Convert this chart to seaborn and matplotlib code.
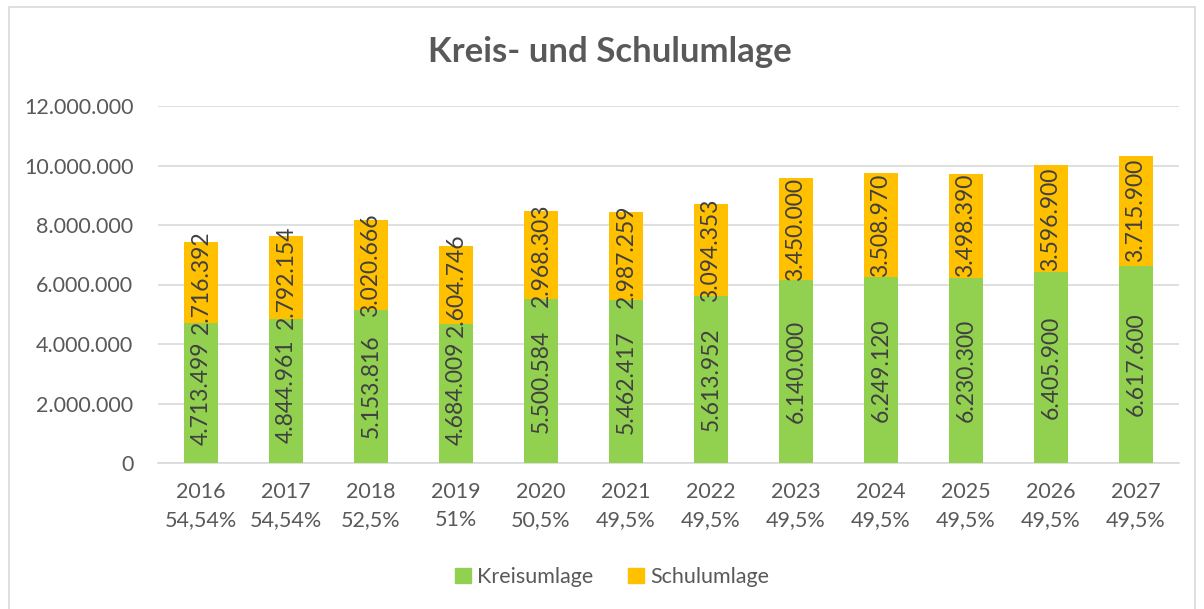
import matplotlib
matplotlib.use("Agg")
import matplotlib.pyplot as plt
from matplotlib.patches import Rectangle, Patch
import numpy as np
import seaborn as sns

years = ["2016", "2017", "2018", "2019", "2020", "2021", "2022", "2023", "2024", "2025", "2026", "2027"]
rates = ["54,54%", "54,54%", "52,5%", "51%", "50,5%", "49,5%", "49,5%", "49,5%", "49,5%", "49,5%", "49,5%", "49,5%"]
kreisumlage = [4713499, 4844961, 5153816, 4684009, 5500584, 5462417, 5613952, 6140000, 6249120, 6230300, 6405900, 6617600]
schulumlage = [2716392, 2792154, 3020666, 2604746, 2968303, 2987259, 3094353, 3450000, 3508970, 3498390, 3596900, 3715900]

green = "#92D050"
orange = "#FFC000"
text_col = "#595959"


def de_fmt(v):
    return f"{int(v):,}".replace(",", ".")


sns.set_style("white")
plt.rcParams["font.family"] = ["Lato", "DejaVu Sans"]

fig = plt.figure(figsize=(12.04, 6.09), dpi=100)
ax = fig.add_axes([158.5 / 1204, 1 - 463 / 609, 1020 / 1204, 357 / 609])

labels = [f"{y}\n{r}" for y, r in zip(years, rates)]
sns.barplot(x=labels, y=kreisumlage, color=green, width=0.4, saturation=1, ax=ax,
            zorder=3, linewidth=0)
sns.barplot(x=labels, y=schulumlage, bottom=kreisumlage, color=orange, width=0.4,
            saturation=1, ax=ax, zorder=3, linewidth=0)

for cont, vals in zip(ax.containers, [kreisumlage, schulumlage]):
    ax.bar_label(cont, labels=[de_fmt(v) for v in vals], label_type="center",
                 rotation=90, fontsize=16.5, color="#404040")

ax.set_ylim(0, 12000000)
ax.set_xlim(-0.5, len(years) - 0.5)
ax.set_yticks(np.arange(0, 12000001, 2000000))
ax.set_yticklabels([de_fmt(v) for v in np.arange(0, 12000001, 2000000)])
ax.yaxis.grid(True, color="#D9D9D9", lw=1.2, zorder=0)
ax.set_axisbelow(True)
for s in ["left", "right", "top"]:
    ax.spines[s].set_visible(False)
ax.spines["bottom"].set_color("#D9D9D9")
ax.spines["bottom"].set_linewidth(1.2)
ax.tick_params(axis="both", length=0, labelsize=15.5, labelcolor=text_col)
ax.tick_params(axis="y", pad=18)
ax.tick_params(axis="x", pad=14)
for t in ax.get_xticklabels():
    t.set_linespacing(1.45)

fig.text(610 / 1204, 1 - 52 / 609, "Kreis- und Schulumlage", ha="center", va="center",
         fontsize=25, fontweight="bold", color=text_col)

handles = [Patch(color=green, label="Kreisumlage"), Patch(color=orange, label="Schulumlage")]
fig.legend(handles=handles, loc="center", bbox_to_anchor=(612 / 1204, 1 - 577 / 609), ncol=2,
           frameon=False, fontsize=15.5, labelcolor=text_col, handlelength=0.75, handleheight=0.75,
           columnspacing=1.6, handletextpad=0.3)

fig.patches.append(Rectangle((9 / 1204, -0.05), 1186 / 1204, 1.05 - 7 / 609,
                             transform=fig.transFigure, fill=False, edgecolor="#D9D9D9", lw=1.2))

fig.savefig("out.png", dpi=100, facecolor="white")
